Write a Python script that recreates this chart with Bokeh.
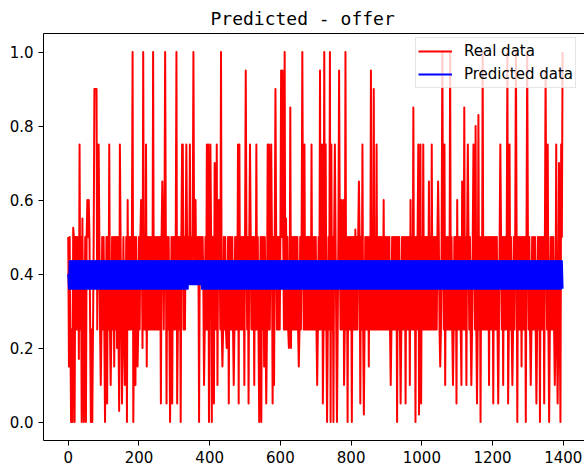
import numpy as np
from bokeh.plotting import figure
from bokeh.models import (Range1d, FixedTicker, PrintfTickFormatter, Legend,
                          LegendItem, LinearAxis)
from bokeh.embed import file_html
from bokeh.resources import INLINE

# ---------------- data ----------------
TITLE = "Predicted - offer"
N_SAMPLES = 1400
SAMPLE_STEP = 2

# dense band of the real series: top level and lower level per index segment
BAND_HIGH = 0.5
BAND_LOW_START = [0, 336, 386]
BAND_LOW = [0.25, 0.375, 0.25]

# upward spikes of the real series (index, value)
SPIKE_X = [14, 32, 40, 54, 58, 74, 76, 78, 80, 86, 116, 146, 168, 182, 206, 212,
           220, 240, 266, 274, 306, 322, 324, 334, 344, 354, 360, 392, 396, 402,
           414, 420, 426, 432, 480, 484, 502, 514, 532, 564, 568, 574, 586, 602,
           606, 612, 616, 628, 662, 668, 688, 712, 718, 724, 728, 740, 744, 754,
           766, 772, 778, 784, 812, 822, 832, 856, 864, 872, 892, 968, 976, 990,
           996, 1004, 1020, 1028, 1046, 1058, 1064, 1080, 1100, 1114, 1120, 1130,
           1146, 1152, 1160, 1172, 1222, 1242, 1248, 1266, 1298, 1350, 1356, 1380,
           1388, 1394, 1398]
SPIKE_Y = [0.525, 0.75, 0.55, 0.6, 0.6, 0.9, 0.9, 0.9, 0.9, 0.75, 0.75, 0.75, 0.6, 1.0, 0.6, 1.0,
           0.75, 1.0, 0.65, 1.0, 1.0, 0.75, 0.75, 0.75, 0.75, 1.0, 0.6, 0.75, 0.75, 0.75,
           0.7, 0.75, 0.6, 1.0, 0.75, 0.75, 0.95, 0.75, 0.75, 0.75, 0.75, 0.75, 0.9, 0.95,
           0.95, 1.0, 0.55, 0.85, 1.0, 0.75, 0.75, 0.95, 0.75, 1.0, 0.75, 1.0, 0.75, 0.75,
           0.95, 0.6, 0.6, 1.0, 0.52, 0.65, 0.75, 0.95, 0.9, 0.75, 0.6, 0.6, 0.85, 0.75,
           0.75, 0.75, 0.65, 0.75, 0.65, 1.0, 0.75, 1.0, 0.6, 0.65, 0.85, 0.75,
           0.75, 0.8, 0.83, 1.0, 0.75, 1.0, 0.75, 1.0, 1.0, 0.95, 0.75, 0.75,
           0.7, 0.75, 1.0]

# downward dips of the real series (index, value)
DIP_X = [2, 8, 12, 18, 30, 38, 44, 50, 64, 68, 92, 104, 110, 120, 130, 138, 144, 152,
         160, 166, 184, 190, 196, 210, 222, 262, 278, 288, 294, 308, 318, 370, 384,
         398, 406, 412, 422, 436, 448, 454, 468, 482, 498, 510, 526, 540, 546, 554,
         560, 578, 582, 624, 630, 652, 704, 720, 732, 742, 750, 760, 780, 790, 802,
         826, 836, 850, 912, 930, 940, 954, 966, 982, 992, 998, 1052, 1066, 1088,
         1098, 1112, 1126, 1140, 1156, 1166, 1190, 1202, 1216, 1230, 1244, 1256,
         1270, 1282, 1294, 1308, 1324, 1334, 1346, 1360, 1376, 1384, 1392]
DIP_Y = [0.15, 0.0, 0.0, 0.0, 0.17, 0.0, 0.0, 0.0, 0.0, 0.0, 0.1, 0.0, 0.05, 0.1, 0.15, 0.2, 0.03, 0.05,
         0.1, 0.0, 0.0, 0.1, 0.15, 0.2, 0.15, 0.05, 0.05, 0.0, 0.05, 0.05, 0.0, 0.0, 0.1,
         0.0, 0.0, 0.05, 0.1, 0.15, 0.2, 0.05, 0.1, 0.05, 0.1, 0.05, 0.1, 0.0, 0.0, 0.15,
         0.05, 0.05, 0.1, 0.2, 0.2, 0.15, 0.1, 0.05, 0.0, 0.0, 0.0, 0.0, 0.1, 0.0, 0.0,
         0.05, 0.02, 0.15, 0.1, 0.0, 0.05, 0.05, 0.1, 0.0, 0.02, 0.05, 0.15, 0.1, 0.1,
         0.05, 0.1, 0.1, 0.1, 0.05, 0.0, 0.1, 0.05, 0.05, 0.1, 0.05, 0.1,
         0.0, 0.15, 0.0, 0.1, 0.05, 0.0, 0.05, 0.0, 0.1, 0.05, 0.0]

# predicted series: narrow dense band
PRED_FIRST = 0.40
PRED_HIGH = 0.435
PRED_LOW_START = [0, 340, 378]
PRED_LOW = [0.36, 0.372, 0.36]

X_TICKS = [0, 200, 400, 600, 800, 1000, 1200, 1400]
Y_TICKS = [0.0, 0.2, 0.4, 0.6, 0.8, 1.0]

# ---------------- build series ----------------
xs = np.arange(0, N_SAMPLES, SAMPLE_STEP)
k = np.arange(len(xs))
low = np.array(BAND_LOW)[np.searchsorted(BAND_LOW_START, xs, side="right") - 1]
real = np.where(k % 2 == 0, BAND_HIGH, low).astype(float)
real[np.array(DIP_X) // SAMPLE_STEP] = DIP_Y
real[np.array(SPIKE_X) // SAMPLE_STEP] = SPIKE_Y

plow = np.array(PRED_LOW)[np.searchsorted(PRED_LOW_START, xs, side="right") - 1]
pred = np.where(k % 2 == 0, PRED_HIGH, plow).astype(float)
pred[0] = PRED_FIRST

# ---------------- figure ----------------
FONT = "DejaVu Sans"
p = figure(width=584, height=468, output_backend="svg", toolbar_location=None,
           x_range=Range1d(-70, 1460), y_range=Range1d(-0.05, 1.05),
           min_border_left=43, min_border_right=0, min_border_top=32,
           min_border_bottom=28, title=TITLE)
p.title.text_font = "DejaVu Sans Mono"
p.title.text_font_size = "18px"
p.title.text_font_style = "normal"
p.title.text_color = "black"
p.title.align = "left"
p.title.offset = 167
p.title.standoff = 10

p.outline_line_color = None
p.xgrid.visible = False
p.ygrid.visible = False
p.background_fill_color = "white"
p.border_fill_color = "white"

for ax in (p.xaxis[0], p.yaxis[0]):
    ax.axis_line_color = "black"
    ax.axis_line_width = 1
    ax.major_tick_line_color = "black"
    ax.major_tick_in = 0
    ax.major_tick_out = 5
    ax.minor_tick_in = 0
    ax.minor_tick_out = 0
    ax.major_label_text_font = FONT
    ax.major_label_text_font_size = "15px"
    ax.major_label_text_color = "black"
    ax.major_label_standoff = 5

p.xaxis[0].ticker = FixedTicker(ticks=X_TICKS)
p.yaxis[0].ticker = FixedTicker(ticks=Y_TICKS)
p.yaxis[0].formatter = PrintfTickFormatter(format="%.1f")

top_axis = LinearAxis(ticker=FixedTicker(ticks=[]), axis_line_color="black",
                      major_tick_in=0, major_tick_out=0, minor_tick_in=0,
                      minor_tick_out=0, major_label_text_font_size="0px")
p.add_layout(top_axis, "above")

r_real = p.line(xs, real, line_color="#ff0000", line_width=2, line_join="round")
r_pred = p.line(xs, pred, line_color="#0000ff", line_width=2, line_join="round")

legend = Legend(items=[LegendItem(label="Real data", renderers=[r_real]),
                       LegendItem(label="Predicted data", renderers=[r_pred])],
                location=(372, 352), padding=2, spacing=1, margin=0,
                glyph_width=34, glyph_height=22, label_height=22,
                label_standoff=12, label_text_font=FONT,
                label_text_font_size="15px", label_text_color="black",
                border_line_color="#cccccc", border_line_width=1,
                background_fill_color="white", background_fill_alpha=0.8)
p.add_layout(legend, "center")

open("out.html", "w").write(file_html(p, INLINE))
